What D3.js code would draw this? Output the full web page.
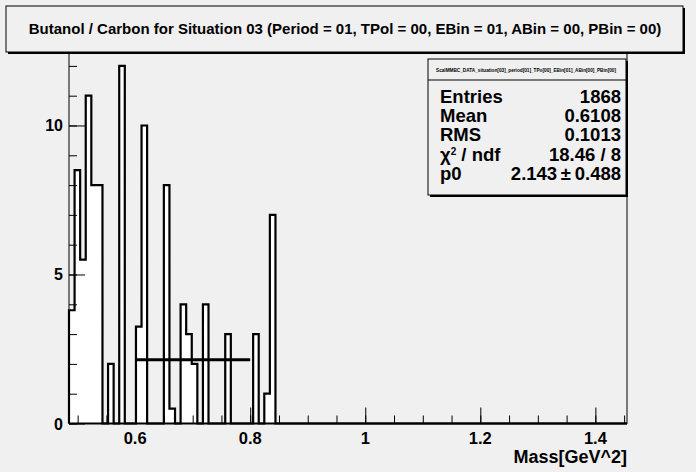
<!DOCTYPE html>
<html><head><meta charset="utf-8">
<script src="https://cdn.jsdelivr.net/npm/d3@7"></script>
<style>
html,body{margin:0;padding:0;background:#f0f0f0;}
svg{display:block;font-family:"Liberation Sans",Arial,sans-serif;font-weight:bold;}
</style></head><body>
<script>
// ---- data ----
const titleText = "Butanol / Carbon for Situation 03 (Period = 01, TPol = 00, EBin = 01, ABin = 00, PBin = 00)";
const xLabel = "Mass[GeV^2]";
const xMin = 0.485, xMax = 1.455, nBins = 100;
// bin contents (first bins; remaining bins are zero)
const binValues = [3.8, 8.5, 5.5, 11.0, 8.0, 8.0, 0, 2.0, 0, 12.0,
                   0, 0, 3.25, 10.0, 0, 0, 0, 8.0, 0.5, 0,
                   4.0, 3.0, 2.0, 0, 4.0, 0, 0, 0, 3.0, 0,
                   0, 0, 0, 3.0, 0, 1.0, 7.0];
const xTickValues = [0.6, 0.8, 1.0, 1.2, 1.4];
const xTickLabels = ["0.6", "0.8", "1", "1.2", "1.4"];
const yTickValues = [0, 5, 10];
const yTickLabels = ["0", "5", "10"];
const fitRange = [0.6, 0.8];
const fitP0 = 2.143;
const statsHeader = "ScalMMBC_DATA_situation[03]_period[01]_TPo[00]_EBin[01]_ABin[00]_PBin[00]";
const statsNames = ["Entries", "Mean", "RMS", "χ2 / ndf", "p0"];
const statsValues = ["1868", "0.6108", "0.1013", "18.46 / 8", "2.143\u2009±\u20090.488"];

const W = 696, H = 472;
const svg = d3.select("body").append("svg").attr("width", W).attr("height", H);
svg.append("rect").attr("width", W).attr("height", H).attr("fill", "#f0f0f0");

const fx0 = 69, fx1 = 627, fy0 = 48, fy1 = 423.5;
const x = d3.scaleLinear().domain([xMin, xMax]).range([fx0, fx1]);
const y = d3.scaleLinear().domain([0, 12.6]).range([fy1, fy0]);

const binW = (xMax - xMin) / nBins;
const bins = d3.range(nBins).map(i => ({x0: xMin + i * binW, x1: xMin + (i + 1) * binW, v: binValues[i] || 0}));

// histogram path
let pts = [[x(xMin), y(0)]];
bins.forEach(b => { pts.push([x(b.x0), y(b.v)]); pts.push([x(b.x1), y(b.v)]); });
pts.push([x(xMax), y(0)]);
const line = d3.line();
svg.append("path").attr("d", line(pts) + "Z").attr("fill", "#ffffff").attr("stroke", "none");
svg.append("path").attr("d", line(pts)).attr("fill", "none").attr("stroke", "#000").attr("stroke-width", 2.2);

// frame
svg.append("rect").attr("x", fx0).attr("y", fy0).attr("width", fx1 - fx0).attr("height", fy1 - fy0)
  .attr("fill", "none").attr("stroke", "#000").attr("stroke-width", 1);
svg.append("line").attr("x1", fx0).attr("x2", fx1).attr("y1", fy1).attr("y2", fy1).attr("stroke", "#000").attr("stroke-width", 2);

// fit line
svg.append("line").attr("x1", x(fitRange[0])).attr("x2", x(fitRange[1]))
  .attr("y1", y(fitP0)).attr("y2", y(fitP0)).attr("stroke", "#000").attr("stroke-width", 3);

// x axis ticks (inside, upward)
const xAxis = d3.axisTop(x).tickValues(d3.range(0.5, 1.451, 0.05)).tickSize(8).tickFormat("");
const gx = svg.append("g").attr("transform", `translate(0,${fy1})`).call(xAxis);
gx.select(".domain").remove();
gx.selectAll(".tick line").attr("stroke", "#000").attr("stroke-width", 1);
const xMajor = d3.axisTop(x).tickValues(xTickValues).tickSize(16).tickFormat("");
const gx2 = svg.append("g").attr("transform", `translate(0,${fy1})`).call(xMajor);
gx2.select(".domain").remove();
gx2.selectAll(".tick line").attr("stroke", "#000").attr("stroke-width", 1);
svg.selectAll(".xlab").data(xTickValues).enter().append("text")
  .attr("x", d => x(d)).attr("y", 444).attr("text-anchor", "middle")
  .attr("font-size", 16.5).text((d, i) => xTickLabels[i]);

// y axis ticks (inside, rightward)
const yMinor = d3.axisRight(y).tickValues(d3.range(0, 12.5, 1)).tickSize(8).tickFormat("");
const gy = svg.append("g").attr("transform", `translate(${fx0},0)`).call(yMinor);
gy.select(".domain").remove();
gy.selectAll(".tick line").attr("stroke", "#000");
const yMajor = d3.axisRight(y).tickValues(yTickValues).tickSize(16).tickFormat("");
const gy2 = svg.append("g").attr("transform", `translate(${fx0},0)`).call(yMajor);
gy2.select(".domain").remove();
gy2.selectAll(".tick line").attr("stroke", "#000");
svg.selectAll(".ylab").data(yTickValues).enter().append("text")
  .attr("x", 63).attr("y", d => y(d) + 6).attr("text-anchor", "end")
  .attr("font-size", 16).text((d, i) => yTickLabels[i]);

// x label
svg.append("text").attr("x", 627).attr("y", 463).attr("text-anchor", "end").attr("font-size", 18).text(xLabel);

// title box
svg.append("rect").attr("x", 8).attr("y", 8).attr("width", 677).attr("height", 46)
  .attr("fill", "#000");
svg.append("rect").attr("x", 6).attr("y", 6).attr("width", 677).attr("height", 46)
  .attr("fill", "#f0f0f0").attr("stroke", "#000").attr("stroke-width", 1);
svg.append("text").attr("x", 345).attr("y", 34).attr("text-anchor", "middle").attr("font-size", 15).text(titleText);

// stats box
const sx = 428, sy = 59, sw = 198, sh = 136;
svg.append("rect").attr("x", sx + 2).attr("y", sy + 2).attr("width", sw).attr("height", sh).attr("fill", "#000");
svg.append("rect").attr("x", sx).attr("y", sy).attr("width", sw).attr("height", sh)
  .attr("fill", "#f0f0f0").attr("stroke", "#000").attr("stroke-width", 1);
svg.append("text").attr("x", sx + 8).attr("y", sy + 13)
  .attr("font-size", 5.6).attr("textLength", 180).attr("lengthAdjust", "spacingAndGlyphs").text(statsHeader);
svg.append("line").attr("x1", sx).attr("x2", sx + sw).attr("y1", sy + 21).attr("y2", sy + 21).attr("stroke", "#000");
const rowY = [103, 122, 141, 161, 180];
statsNames.forEach((n, i) => {
  const t = svg.append("text").attr("x", sx + 12).attr("y", rowY[i]).attr("font-size", 18.5);
  if (n.startsWith("χ2")) {
    t.append("tspan").text("χ");
    t.append("tspan").attr("font-size", 10).attr("dy", -6).text("2");
    t.append("tspan").attr("dy", 6).text(" / ndf");
  } else t.text(n);
  svg.append("text").attr("x", sx + sw - 5).attr("y", rowY[i]).attr("text-anchor", "end")
    .attr("font-size", 18.5).text(statsValues[i]);
});
</script>
</body></html>
